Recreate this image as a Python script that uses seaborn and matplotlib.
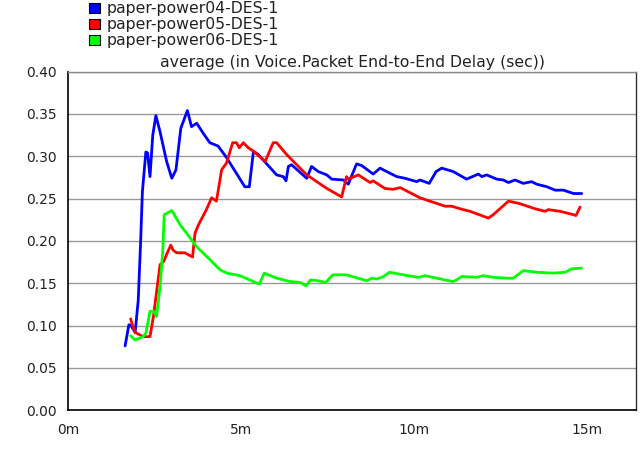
import numpy as np
import pandas as pd
import matplotlib
matplotlib.use("Agg")
import matplotlib.pyplot as plt
from matplotlib.patches import Rectangle
from matplotlib.ticker import FixedLocator, FuncFormatter
import seaborn as sns

# ---- data (time in minutes, delay in seconds) ----
series_names = ["paper-power04-DES-1", "paper-power05-DES-1", "paper-power06-DES-1"]
series_colors = ["#0000FF", "#FF0000", "#00FF00"]

blue_t = [1.65, 1.76, 1.82, 1.94, 2.03, 2.10, 2.15, 2.25, 2.30, 2.37, 2.45, 2.54, 2.66, 2.85, 3.00,
          3.12, 3.26, 3.45, 3.57, 3.72, 3.91, 4.10, 4.34, 4.59, 5.11, 5.24, 5.36, 5.50, 6.03, 6.22,
          6.30, 6.37, 6.46, 6.90, 7.04, 7.23, 7.48, 7.62, 7.96, 8.10, 8.34, 8.49, 8.82, 9.02, 9.16,
          9.50, 9.74, 10.08, 10.17, 10.44, 10.64, 10.80, 11.13, 11.52, 11.86, 11.96, 12.10, 12.39,
          12.58, 12.73, 12.92, 13.16, 13.40, 13.55, 13.84, 14.08, 14.32, 14.61, 14.85]
blue_v = [0.076, 0.101, 0.100, 0.092, 0.130, 0.200, 0.258, 0.305, 0.304, 0.276, 0.325, 0.348, 0.329,
          0.294, 0.274, 0.284, 0.333, 0.354, 0.335, 0.339, 0.327, 0.316, 0.312, 0.298, 0.264, 0.264,
          0.306, 0.302, 0.278, 0.276, 0.271, 0.288, 0.290, 0.274, 0.288, 0.282, 0.278, 0.273, 0.272,
          0.267, 0.291, 0.289, 0.279, 0.286, 0.283, 0.276, 0.274, 0.270, 0.272, 0.268, 0.282, 0.286,
          0.282, 0.273, 0.279, 0.276, 0.278, 0.273, 0.272, 0.269, 0.272, 0.268, 0.270, 0.267, 0.264,
          0.260, 0.260, 0.256, 0.256]

red_t = [1.81, 1.85, 1.94, 2.17, 2.37, 2.47, 2.66, 2.77, 2.87, 2.97, 3.04, 3.14, 3.38, 3.60, 3.67,
         3.77, 4.00, 4.15, 4.29, 4.44, 4.58, 4.76, 4.87, 4.95, 5.07, 5.21, 5.36, 5.70, 5.93, 6.03,
         6.32, 6.90, 7.48, 7.91, 8.05, 8.10, 8.39, 8.73, 8.82, 9.16, 9.40, 9.60, 10.17, 10.46, 10.90,
         11.09, 11.42, 11.62, 12.15, 12.29, 12.73, 13.06, 13.50, 13.79, 13.88, 14.22, 14.61, 14.68, 14.80]
red_v = [0.108, 0.102, 0.092, 0.087, 0.087, 0.111, 0.172, 0.176, 0.186, 0.195, 0.189, 0.186, 0.186,
         0.181, 0.209, 0.219, 0.237, 0.251, 0.247, 0.284, 0.292, 0.316, 0.316, 0.310, 0.316, 0.310,
         0.306, 0.294, 0.316, 0.316, 0.302, 0.278, 0.262, 0.252, 0.276, 0.273, 0.278, 0.269, 0.271,
         0.262, 0.261, 0.263, 0.251, 0.247, 0.241, 0.241, 0.237, 0.235, 0.227, 0.231, 0.247, 0.244,
         0.238, 0.235, 0.237, 0.235, 0.231, 0.230, 0.240]

green_t = [1.81, 1.94, 2.17, 2.25, 2.37, 2.47, 2.56, 2.66, 2.74, 2.78, 2.87, 3.00, 3.24, 3.43, 3.72,
           4.10, 4.39, 4.59, 4.97, 5.36, 5.53, 5.67, 6.03, 6.42, 6.71, 6.88, 7.01, 7.23, 7.45, 7.65,
           8.05, 8.63, 8.78, 8.92, 9.12, 9.29, 9.69, 10.12, 10.32, 10.66, 11.13, 11.23, 11.38, 11.81,
           12.00, 12.29, 12.68, 12.87, 13.16, 13.55, 14.03, 14.37, 14.55, 14.84]
green_v = [0.088, 0.083, 0.087, 0.091, 0.117, 0.117, 0.111, 0.146, 0.189, 0.231, 0.233, 0.236, 0.219,
           0.209, 0.193, 0.178, 0.166, 0.162, 0.159, 0.152, 0.149, 0.162, 0.156, 0.152, 0.151, 0.147,
           0.154, 0.153, 0.151, 0.160, 0.160, 0.153, 0.156, 0.155, 0.158, 0.163, 0.160, 0.157, 0.159,
           0.156, 0.152, 0.154, 0.158, 0.157, 0.159, 0.157, 0.156, 0.156, 0.165, 0.163, 0.162, 0.163,
           0.167, 0.168]

title_text = "average (in Voice.Packet End-to-End Delay (sec))"
x_ticks = [0, 5, 10, 15]
x_tick_labels = ["0m", "5m", "10m", "15m"]
y_ticks = [0.00, 0.05, 0.10, 0.15, 0.20, 0.25, 0.30, 0.35, 0.40]

frames = []
for name, t, v in zip(series_names, [blue_t, red_t, green_t], [blue_v, red_v, green_v]):
    frames.append(pd.DataFrame({"time": t, "delay": v, "series": name}))
df = pd.concat(frames, ignore_index=True)

sns.set_style("white")
plt.rcParams["font.family"] = ["DejaVu Sans"]

W, H = 641, 450
fig = plt.figure(figsize=(W / 100, H / 100), dpi=100)
ax_l, ax_r, ax_b, ax_t = 68, 636, 410.3, 71.6
ax = fig.add_axes([ax_l / W, 1 - ax_b / H, (ax_r - ax_l) / W, (ax_b - ax_t) / H])

sns.lineplot(data=df, x="time", y="delay", hue="series", hue_order=series_names,
             palette=dict(zip(series_names, series_colors)), sort=False, estimator=None,
             linewidth=2.0, legend=False, ax=ax, zorder=3)

ax.set_xlim(0, (ax_r - ax_l) / 34.6)
ax.set_ylim(0, 0.40)
ax.set_xlabel("")
ax.set_ylabel("")

ax.xaxis.set_major_locator(FixedLocator(x_ticks))
ax.set_xticklabels(x_tick_labels)
ax.xaxis.set_minor_locator(FixedLocator([2.5, 7.5, 12.5]))
ax.yaxis.set_major_locator(FixedLocator(y_ticks))
ax.yaxis.set_major_formatter(FuncFormatter(lambda v, p: f"{v:.2f}"))

ax.tick_params(axis="both", which="major", direction="out", length=6, width=1,
               color="black", labelsize=10, labelcolor="#222222")
ax.tick_params(axis="x", which="major", pad=3)
ax.tick_params(axis="y", which="major", pad=2)
ax.tick_params(axis="x", which="minor", direction="out", length=3, width=1, color="black")

ax.grid(True, axis="y", color="#999999", linewidth=1.0, zorder=1)
ax.grid(False, axis="x")
ax.set_axisbelow(True)

for s in ["left", "bottom"]:
    ax.spines[s].set_color("black")
    ax.spines[s].set_linewidth(1.2)
ax.spines["right"].set_color("#333333")
ax.spines["right"].set_linewidth(1.0)
ax.spines["top"].set_color("#888888")
ax.spines["top"].set_linewidth(1.0)

ax.set_title(title_text, fontsize=11.3, color="#222222", pad=3)

# legend in top-left of figure
for i, (name, col) in enumerate(zip(series_names, series_colors)):
    cy = 8 + 16 * i
    fig.patches.append(Rectangle((89 / W, 1 - (cy + 4.5) / H), 11 / W, 9 / H,
                                 transform=fig.transFigure, facecolor=col,
                                 edgecolor="black", linewidth=0.8))
    fig.text(107 / W, 1 - cy / H, name, fontsize=11.3, color="#222222",
             va="center", ha="left")

fig.savefig("out.png", dpi=100, facecolor="white")
